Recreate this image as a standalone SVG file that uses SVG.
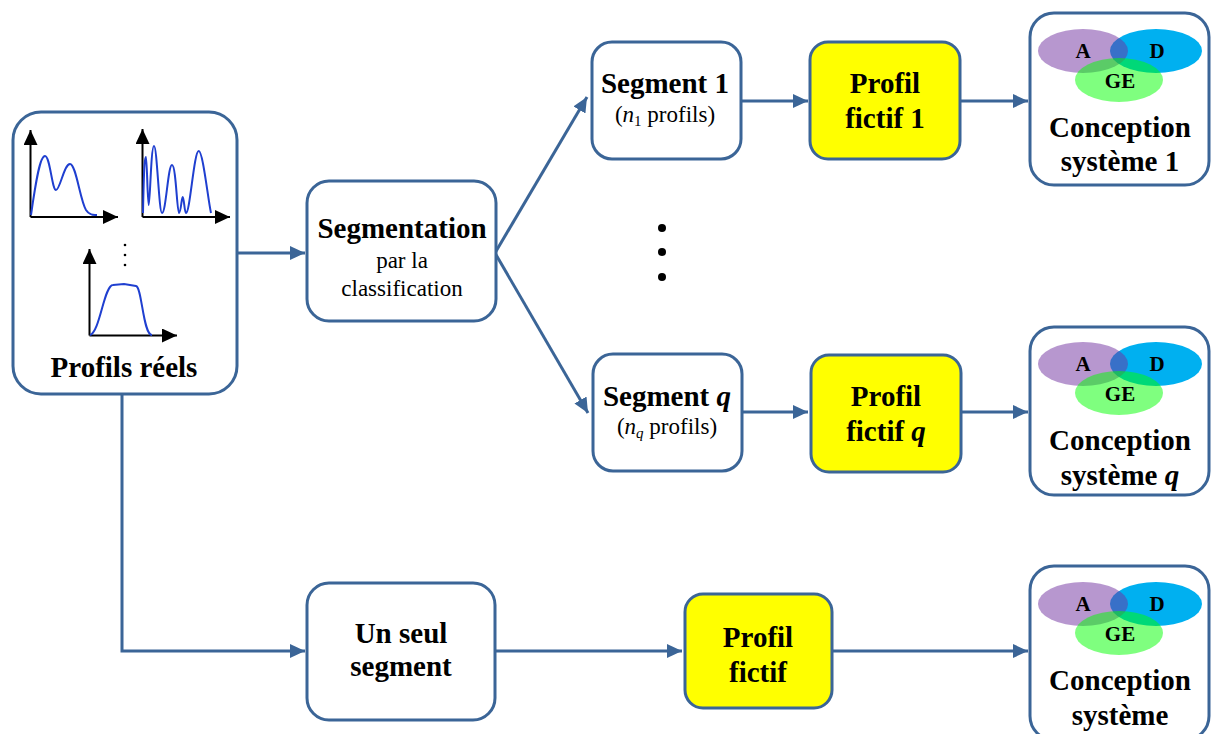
<svg xmlns="http://www.w3.org/2000/svg" width="1212" height="734" viewBox="0 0 1212 734">
<defs>
<style>
.box{fill:#fff;stroke:#3B6597;stroke-width:3}
.yel{fill:#FFFF00;stroke:#3B6597;stroke-width:3}
.con{fill:none;stroke:#3B6597;stroke-width:3}
.t{font-family:"Liberation Serif","Times New Roman",serif;fill:#000;text-anchor:middle}
.b{font-weight:bold;font-size:29px}
.r{font-size:23px}
.v{font-weight:bold;font-size:21px}
.ax{fill:none;stroke:#000;stroke-width:2}
.cv{fill:none;stroke:#1F3FD0;stroke-width:2}
</style>
<marker id="arr" markerUnits="userSpaceOnUse" markerWidth="16" markerHeight="14" refX="15" refY="7" orient="auto">
<path d="M0,0 L15,7 L0,14 z" fill="#3B6597"/>
</marker>
<marker id="axa" markerUnits="userSpaceOnUse" markerWidth="16" markerHeight="14" refX="15" refY="7" orient="auto">
<path d="M0,0 L15,7 L0,14 z" fill="#000"/>
</marker>
<g id="venn">
<ellipse cx="1156" cy="51" rx="46" ry="22" fill="#00B0F0"/>
<ellipse cx="1083" cy="51" rx="45" ry="22" fill="#7030A0" fill-opacity="0.5"/>
<ellipse cx="1119" cy="80" rx="44" ry="22" fill="#00FF00" fill-opacity="0.5"/>
<text class="t v" x="1083" y="58">A</text>
<text class="t v" x="1157" y="58">D</text>
<text class="t v" x="1120" y="88">GE</text>
</g>
</defs>

<g id="connectors">
<path class="con" d="M237,253 L305,253" marker-end="url(#arr)"/>
<path class="con" d="M495,253 L587,97" marker-end="url(#arr)"/>
<path class="con" d="M495,253 L588,413" marker-end="url(#arr)"/>
<path class="con" d="M741,101 L808,101" marker-end="url(#arr)"/>
<path class="con" d="M960,101 L1028,101" marker-end="url(#arr)"/>
<path class="con" d="M741,412 L808,412" marker-end="url(#arr)"/>
<path class="con" d="M961,412 L1028,412" marker-end="url(#arr)"/>
<path class="con" d="M122,395 L122,651 L305,651" marker-end="url(#arr)"/>
<path class="con" d="M495,651 L682,651" marker-end="url(#arr)"/>
<path class="con" d="M833,651 L1028,651" marker-end="url(#arr)"/>
</g>

<g id="profils-reels">
<rect class="box" x="13" y="112" width="224" height="282" rx="28"/>
<path class="ax" d="M30.5,217 L30.5,130" marker-end="url(#axa)"/>
<path class="ax" d="M30.5,217 L118,217" marker-end="url(#axa)"/>
<path class="cv" d="M31,215 C36,180 40,156 45,156 C50,156 52,190 56,190 C60,190 64,164 70,164 C76,164 80,200 86,210 C90,216 94,215 97,215"/>
<path class="ax" d="M142.5,217 L142.5,129" marker-end="url(#axa)"/>
<path class="ax" d="M142.5,217 L230,217" marker-end="url(#axa)"/>
<path class="cv" d="M143,213 C144,160 145,157 146,157 C147,157 147.5,205 148.7,205 C150,205 151,146 154,146 C157,146 159,213 162,213 C166,213 168,165 172,165 C176,165 177,213 179,213 C181,213 181.5,197 182.7,197 C184,197 184.5,213 186,213 C190,213 194,151 198.7,151 C203,151 208,200 211,213"/>
<circle cx="125" cy="245" r="1.3"/>
<circle cx="125" cy="255" r="1.3"/>
<circle cx="125" cy="265" r="1.3"/>
<path class="ax" d="M89.5,335.5 L89.5,249" marker-end="url(#axa)"/>
<path class="ax" d="M89.5,335.5 L177,335.5" marker-end="url(#axa)"/>
<path class="cv" d="M90,335 C100,332 104,285 113,285 L124,284 L136,286 C142,287 143,335 152,335"/>
<text class="t b" x="124" y="377">Profils réels</text>
</g>

<g id="segmentation">
<rect class="box" x="307" y="181" width="189" height="140" rx="22"/>
<text class="t b" x="402" y="238">Segmentation</text>
<text class="t r" x="402" y="268">par la</text>
<text class="t r" x="402" y="296">classification</text>
</g>

<g id="segment-1">
<rect class="box" x="592" y="42" width="149" height="117" rx="20"/>
<text class="t b" x="665" y="93">Segment 1</text>
<text class="t r" x="665" y="122">(<tspan font-style="italic">n</tspan><tspan font-size="15" dy="4">1</tspan><tspan dy="-4"> profils)</tspan></text>
</g>

<g id="dots">
<circle cx="662" cy="228" r="4"/>
<circle cx="662" cy="252" r="4"/>
<circle cx="662" cy="277" r="4"/>
</g>

<g id="segment-q">
<rect class="box" x="593" y="354" width="149" height="117" rx="20"/>
<text class="t b" x="667" y="406">Segment <tspan font-style="italic">q</tspan></text>
<text class="t r" x="667" y="434">(<tspan font-style="italic">n</tspan><tspan font-size="15" font-style="italic" dy="4">q</tspan><tspan dy="-4"> profils)</tspan></text>
</g>

<g id="profil-fictif-1">
<rect class="yel" x="810" y="42" width="150" height="117" rx="18"/>
<text class="t b" x="885" y="93">Profil</text>
<text class="t b" x="885" y="128">fictif 1</text>
</g>

<g id="profil-fictif-q">
<rect class="yel" x="811" y="355" width="150" height="117" rx="18"/>
<text class="t b" x="886" y="406">Profil</text>
<text class="t b" x="886" y="441">fictif <tspan font-style="italic">q</tspan></text>
</g>

<g id="conception-1">
<rect class="box" x="1030" y="13" width="179" height="172" rx="24"/>
<use href="#venn"/>
<text class="t b" x="1120" y="137">Conception</text>
<text class="t b" x="1120" y="171">système 1</text>
</g>

<g id="conception-q">
<rect class="box" x="1030" y="327" width="179" height="168" rx="24"/>
<use href="#venn" y="313"/>
<text class="t b" x="1120" y="450">Conception</text>
<text class="t b" x="1120" y="485">système <tspan font-style="italic">q</tspan></text>
</g>

<g id="un-seul-segment">
<rect class="box" x="307" y="583" width="188" height="137" rx="22"/>
<text class="t b" x="401" y="643">Un seul</text>
<text class="t b" x="401" y="676">segment</text>
</g>

<g id="profil-fictif">
<rect class="yel" x="685" y="594" width="147" height="114" rx="18"/>
<text class="t b" x="758" y="647">Profil</text>
<text class="t b" x="758" y="682">fictif</text>
</g>

<g id="conception">
<rect class="box" x="1030" y="566" width="179" height="174" rx="24"/>
<use href="#venn" y="553"/>
<text class="t b" x="1120" y="690">Conception</text>
<text class="t b" x="1120" y="725">système</text>
</g>
</svg>
